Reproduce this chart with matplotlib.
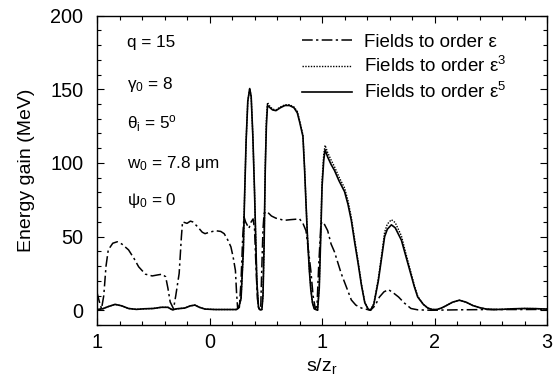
import matplotlib
matplotlib.use("Agg")
from matplotlib import pyplot as plt
from matplotlib.ticker import MultipleLocator, FixedLocator, FixedFormatter

plt.rcParams['font.family'] = ['Liberation Sans', 'DejaVu Sans']
plt.rcParams['mathtext.fontset'] = 'custom'
plt.rcParams['mathtext.rm'] = 'Liberation Sans'
plt.rcParams['mathtext.it'] = 'Liberation Sans:italic'

# fields to order eps^5 (solid)
s5 = [-1.0, -0.95, -0.90, -0.84, -0.78, -0.72, -0.65, -0.58, -0.50, -0.43, -0.37, -0.33, -0.29,
      -0.22, -0.17, -0.13, -0.09, -0.04, 0.05, 0.15, 0.24, 0.26, 0.28, 0.30, 0.31, 0.325, 0.34,
      0.357, 0.37, 0.385, 0.40, 0.41, 0.42, 0.435, 0.45, 0.465, 0.475, 0.485, 0.495, 0.505, 0.515,
      0.53, 0.56, 0.59, 0.63, 0.67, 0.71, 0.75, 0.78, 0.80, 0.83, 0.845, 0.857, 0.87, 0.887, 0.90,
      0.915, 0.93, 0.96, 0.975, 0.99, 1.0, 1.015, 1.027, 1.05, 1.08, 1.11, 1.15, 1.2, 1.23, 1.26,
      1.29, 1.32, 1.35, 1.38, 1.41, 1.43, 1.46, 1.50, 1.53, 1.556, 1.58, 1.616, 1.65, 1.705, 1.74,
      1.78, 1.82, 1.85, 1.90, 1.94, 1.98, 2.02, 2.06, 2.10, 2.16, 2.22, 2.28, 2.34, 2.40, 2.46,
      2.52, 2.60, 2.70, 2.80, 2.90, 3.0]
e5 = [0.5, 1, 2.5, 4, 3, 1.2, 0.6, 1.0, 1.2, 2, 2, 0.3, 1,
      1.5, 3, 3.5, 2, 0.8, 0.5, 0.5, 0.5, 2, 8, 40, 73, 115, 142,
      150.5, 145, 118, 80, 50, 20, 2, 0.2, 0.5, 10, 45, 95, 125, 139,
      138, 136, 135.5, 137.5, 139, 139, 137.5, 134, 128, 118, 95, 73, 50, 27, 14,
      5, 1, 0, 15, 55, 84, 102, 109, 104, 99, 95, 88, 80.5, 72, 61,
      46, 32, 17, 5, 0.8, 0, 4, 20, 36, 50, 55, 58, 56, 47.6, 38,
      27, 16, 9, 4, 1.5, 0.5, 0.5, 1.5, 3, 5.5, 6.8, 5.5, 3.2, 1.8, 0.8,
      0.5, 0.6, 1.0, 1.2, 1.1, 0.8]

# fields to order eps^3 (dotted)
s3 = s5
e3 = [0.5, 1, 2.5, 4, 3, 1.2, 0.6, 1.0, 1.2, 2, 2, 0.3, 1,
      1.5, 3, 3.5, 2, 0.8, 0.5, 0.5, 0.5, 2, 8, 40, 73, 115, 142,
      150.5, 145, 118, 80, 50, 20, 2, 0.2, 0.5, 10, 46, 98, 130, 141,
      139, 136.5, 136, 138, 139.5, 139.5, 138, 135, 129, 119, 96, 74, 51, 28, 15,
      5, 1, 0, 16, 58, 88, 106, 112, 107, 102, 97.5, 90.5, 83, 74.5, 63,
      48, 33.5, 18, 5.5, 0.8, 0, 4.5, 21.5, 38, 53, 58.5, 61.5, 59.5, 50.5, 40,
      28.5, 17, 9.5, 4, 1.5, 0.5, 0.5, 1.5, 3, 5.5, 6.8, 5.5, 3.2, 1.8, 0.8,
      0.5, 0.6, 1.0, 1.2, 1.1, 0.8]

# fields to order eps (dash-dot)
s1 = [-1.0, -0.98, -0.96, -0.94, -0.92, -0.90, -0.86, -0.82, -0.78, -0.72, -0.67, -0.63, -0.57,
      -0.51, -0.46, -0.42, -0.39, -0.37, -0.35, -0.32, -0.30, -0.27, -0.25, -0.24, -0.22, -0.20,
      -0.17, -0.15, -0.11, -0.065, -0.04, 0.00, 0.054, 0.10, 0.13, 0.16, 0.19, 0.21, 0.23, 0.24,
      0.25, 0.265, 0.28, 0.295, 0.306, 0.32, 0.35, 0.37, 0.387, 0.40, 0.41, 0.425, 0.44, 0.455,
      0.465, 0.475, 0.485, 0.51, 0.55, 0.59, 0.62, 0.66, 0.72, 0.80, 0.83, 0.857, 0.88, 0.90,
      0.92, 0.94, 0.955, 0.97, 0.99, 1.01, 1.05, 1.08, 1.11, 1.17, 1.22, 1.26, 1.30, 1.35, 1.43,
      1.47, 1.51, 1.55, 1.59, 1.63, 1.68, 1.73, 1.79, 1.85, 1.97, 2.2, 2.5, 2.8, 3.0]
e1 = [12, 6, 1, 10, 30, 41, 45.5, 46.5, 45, 41, 35, 29.5, 24.5,
      23.3, 24, 24.5, 22.7, 15, 5.7, 1, 10, 25, 50, 60, 59.5, 59,
      60.5, 60, 57, 53, 52, 53, 54, 53.5, 52, 48, 43, 36, 27, 12,
      1, 2, 20, 50, 63.5, 60, 55.6, 60, 62, 55, 35, 8, 0.5, 2,
      30, 55, 65.8, 67, 64, 62.5, 62, 61, 61.5, 62, 59, 54, 40, 27,
      10, 1, 3, 30, 59, 60, 54, 45, 39.7, 25, 15, 7, 3.5, 1.5, 0,
      3, 9, 12.5, 14, 12, 9, 5, 1.2, 0.3, 0, 0.3, 0.5, 0.5, 0.6]

xticks = [-1, 0, 1, 2, 3]
xticklabels = ['1', '0', '1', '2', '3']

fig = plt.figure(figsize=(5.56, 3.81), dpi=100)
ax = fig.add_axes([0.1745, 0.147, 0.8095, 0.812])

ax.plot(s1, e1, color='black', lw=1.1, dashes=(7, 2.2, 1.5, 2.2), label='Fields to order \u03b5')
ax.plot(s3, e3, color='black', lw=1.0, ls=(0, (1, 1)), label='Fields to order \u03b5$^3$')
ax.plot(s5, e5, color='black', lw=1.2, label='Fields to order \u03b5$^5$')

ax.set_xlim(-1, 3)
ax.set_ylim(-10, 200)
ax.xaxis.set_major_locator(FixedLocator(xticks))
ax.xaxis.set_major_formatter(FixedFormatter(xticklabels))
ax.xaxis.set_minor_locator(MultipleLocator(0.2))
ax.yaxis.set_major_locator(FixedLocator([0, 50, 100, 150, 200]))
ax.yaxis.set_minor_locator(MultipleLocator(10))
ax.tick_params(which='both', direction='in', top=True, right=True, labelsize=14.3)
ax.tick_params(which='major', length=5, width=0.8)
ax.tick_params(which='minor', length=3, width=0.8)
ax.tick_params(axis='y', which='major', pad=10)
ax.tick_params(axis='x', which='major', pad=6)
for sp in ax.spines.values():
    sp.set_linewidth(1.0)

ax.set_xlabel('s/z$_\\mathrm{r}$', fontsize=14, labelpad=3)
ax.set_ylabel('Energy gain (MeV)', fontsize=14, labelpad=11)

txts = ['q = 15', '\u03b3$_0$ = 8', '\u03b8$_\\mathrm{i}$ = 5$^\\mathrm{o}$',
        'w$_0$ = 7.8 \u03bcm', '\u03c8$_0$ = 0']
ys = [0.914, 0.776, 0.652, 0.523, 0.404]
for t, yy in zip(txts, ys):
    ax.text(0.067, yy, t, transform=ax.transAxes, fontsize=12.3, va='center', ha='left')

ax.legend(loc='upper left', bbox_to_anchor=(0.455, 0.942), frameon=False, fontsize=13.5,
          handlelength=2.7, handletextpad=0.6, labelspacing=0.3, borderpad=0, borderaxespad=0)

fig.savefig('out.png', dpi=100)
